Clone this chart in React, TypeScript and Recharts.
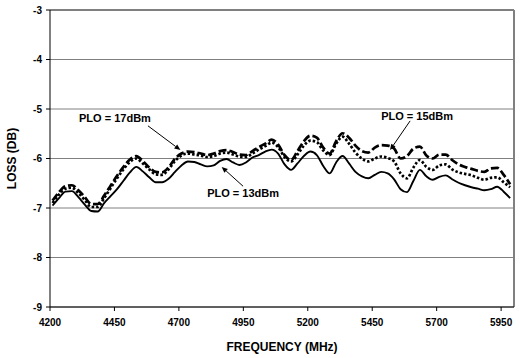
import { LineChart, Line, XAxis, YAxis, CartesianGrid, ReferenceLine, ReferenceDot } from 'recharts';

// frequency grid (MHz)
const FREQS = [
  4210, 4235, 4260, 4285, 4310, 4335, 4360, 4385, 4410, 4435, 4460, 4485,
  4510, 4535, 4560, 4585, 4610, 4635, 4660, 4685, 4710, 4735, 4760, 4785,
  4810, 4835, 4860, 4885, 4910, 4935, 4960, 4985, 5010, 5035, 5060, 5085,
  5110, 5135, 5160, 5185, 5210, 5235, 5260, 5285, 5310, 5335, 5360, 5385,
  5410, 5435, 5460, 5485, 5510, 5535, 5560, 5585, 5610, 5635, 5660, 5685,
  5710, 5735, 5760, 5785, 5810, 5835, 5860, 5885, 5910, 5935, 5960, 5985,
];

// PLO = 13dBm (solid)
const LOSS_13 = [
  -6.95, -6.8, -6.67, -6.66, -6.78, -6.93, -7.06, -7.07, -6.9, -6.76, -6.62, -6.45,
  -6.28, -6.17, -6.26, -6.38, -6.48, -6.48, -6.41, -6.27, -6.14, -6.06, -6.07, -6.12,
  -6.16, -6.14, -6.05, -6.01, -6.08, -6.13, -6.08, -5.98, -5.93, -5.86, -5.82, -5.9,
  -6.12, -6.23, -6.1, -5.95, -5.86, -5.93, -6.15, -6.3, -6.08, -5.95, -6.1, -6.27,
  -6.36, -6.4, -6.33, -6.27, -6.3, -6.42, -6.62, -6.68, -6.45, -6.23, -6.36, -6.43,
  -6.37, -6.34, -6.42, -6.49, -6.54, -6.58, -6.61, -6.64, -6.62, -6.57, -6.67, -6.8,
];

// PLO = 15dBm (dotted)
const LOSS_15 = [
  -6.9, -6.73, -6.61, -6.59, -6.7, -6.84, -6.98, -6.98, -6.8, -6.6, -6.4, -6.22,
  -6.07, -6.0, -6.1, -6.22, -6.32, -6.33, -6.22, -6.05, -5.94, -5.9, -5.92, -5.94,
  -5.97, -5.95, -5.9, -5.88, -5.92, -5.96, -5.97, -5.9, -5.82, -5.75, -5.68, -5.77,
  -5.97, -6.06, -5.92, -5.74, -5.64, -5.67, -5.84, -5.93, -5.7, -5.56, -5.7, -5.88,
  -6.0, -6.06, -6.0, -5.96, -5.99, -6.06, -6.3, -6.4, -6.18, -6.03, -6.17, -6.23,
  -6.14, -6.12, -6.22, -6.28, -6.31, -6.34, -6.39, -6.43, -6.39, -6.38, -6.48, -6.58,
];

// PLO = 17dBm (dashed)
const LOSS_17 = [
  -6.85, -6.68, -6.56, -6.54, -6.64, -6.78, -6.92, -6.92, -6.75, -6.55, -6.35, -6.17,
  -6.02, -5.95, -6.05, -6.18, -6.27, -6.28, -6.18, -6.0, -5.9, -5.86, -5.87, -5.9,
  -5.93, -5.9, -5.85, -5.83, -5.87, -5.92, -5.93, -5.85, -5.77, -5.7, -5.62, -5.72,
  -5.93, -6.03, -5.85, -5.65, -5.54, -5.58, -5.78, -5.9, -5.65, -5.49, -5.58, -5.74,
  -5.85, -5.88, -5.78, -5.73, -5.74, -5.8, -6.0, -5.95, -5.8, -5.76, -5.94, -6.0,
  -5.92, -5.92, -6.03, -6.12, -6.17, -6.21, -6.25, -6.27, -6.2, -6.19, -6.33, -6.52,
];

const X_TICKS = [4200, 4450, 4700, 4950, 5200, 5450, 5700, 5950];
const Y_TICKS = [-9, -8, -7, -6, -5, -4, -3];

// annotation labels and arrows, in data coordinates
const NOTES = [
  { text: 'PLO = 17dBm', x: 4452, y: -5.18 },
  { text: 'PLO = 13dBm', x: 4949, y: -6.7 },
  { text: 'PLO = 15dBm', x: 5624, y: -5.14 },
];
const ARROWS = [
  { x1: 4580, y1: -5.34, x2: 4706, y2: -5.83 },
  { x1: 4949, y1: -6.56, x2: 4866, y2: -6.17 },
  { x1: 5597, y1: -5.24, x2: 5519, y2: -5.83 },
];

const data = FREQS.map((f, i) => ({
  freq: f,
  p13: LOSS_13[i],
  p15: LOSS_15[i],
  p17: LOSS_17[i],
}));

const FONT = '"Liberation Sans", Arial, sans-serif';

function ArrowShape(props: any) {
  const { x1, y1, x2, y2 } = props;
  if ([x1, y1, x2, y2].some(v => typeof v !== 'number')) return null;
  const a = Math.atan2(y2 - y1, x2 - x1);
  const len = 6;
  const w = 2.6;
  const bx = x2 - len * Math.cos(a);
  const by = y2 - len * Math.sin(a);
  const px = -Math.sin(a) * w;
  const py = Math.cos(a) * w;
  return (
    <g>
      <line x1={x1} y1={y1} x2={bx} y2={by} stroke="#000" strokeWidth={1} />
      <polygon points={`${x2},${y2} ${bx + px},${by + py} ${bx - px},${by - py}`} fill="#000" />
    </g>
  );
}

export default function App() {
  return (
    <div style={{ position: 'absolute', left: 0, top: 0, background: '#fff' }}>
      <LineChart
        width={520}
        height={358}
        data={data}
        margin={{ top: 10, right: 6, bottom: 0, left: 0 }}
      >
        <CartesianGrid horizontal vertical={false} stroke="#808080" strokeWidth={1} />
        <XAxis
          dataKey="freq"
          type="number"
          domain={[4200, 6000]}
          ticks={X_TICKS}
          allowDataOverflow
          height={51}
          stroke="#000"
          tickSize={4}
          tickMargin={8}
          tick={{ fill: '#000', fontSize: 10, fontWeight: 'bold', fontFamily: FONT }}
          label={{
            value: 'FREQUENCY (MHz)',
            position: 'insideBottom',
            offset: 7,
            fill: '#000',
            fontSize: 12,
            fontWeight: 'bold',
            fontFamily: FONT,
          }}
        />
        <YAxis
          type="number"
          domain={[-9, -3]}
          ticks={Y_TICKS}
          width={50}
          stroke="#000"
          tickSize={4}
          tickMargin={4}
          tick={{ fill: '#000', fontSize: 10, fontWeight: 'bold', fontFamily: FONT }}
          label={{
            value: 'LOSS (DB)',
            angle: -90,
            position: 'insideLeft',
            offset: 12,
            style: { textAnchor: 'middle' },
            fill: '#000',
            fontSize: 12,
            fontWeight: 'bold',
            fontFamily: FONT,
          }}
        />
        <ReferenceLine y={-3} stroke="#404040" strokeWidth={1} />
        <ReferenceLine x={6000} stroke="#808080" strokeWidth={2} ifOverflow="extendDomain" />
        <Line
          type="monotone"
          dataKey="p13"
          stroke="#000"
          strokeWidth={1.9}
          dot={false}
          isAnimationActive={false}
        />
        <Line
          type="monotone"
          dataKey="p15"
          stroke="#000"
          strokeWidth={2.7}
          strokeDasharray="2.5 2"
          dot={false}
          isAnimationActive={false}
        />
        <Line
          type="monotone"
          dataKey="p17"
          stroke="#000"
          strokeWidth={2.7}
          strokeDasharray="8 3"
          dot={false}
          isAnimationActive={false}
        />
        {ARROWS.map((a, i) => (
          <ReferenceLine
            key={`arrow-${i}`}
            segment={[{ x: a.x1, y: a.y1 }, { x: a.x2, y: a.y2 }]}
            shape={ArrowShape}
          />
        ))}
        {NOTES.map(n => (
          <ReferenceDot
            key={n.text}
            x={n.x}
            y={n.y}
            r={0}
            shape={(p: any) => (
              <text
                x={p.cx}
                y={p.cy}
                textAnchor="middle"
                dominantBaseline="central"
                fontFamily={FONT}
                fontSize={11}
                fontWeight="bold"
                fill="#000"
              >
                {n.text}
              </text>
            )}
          />
        ))}
      </LineChart>
    </div>
  );
}
